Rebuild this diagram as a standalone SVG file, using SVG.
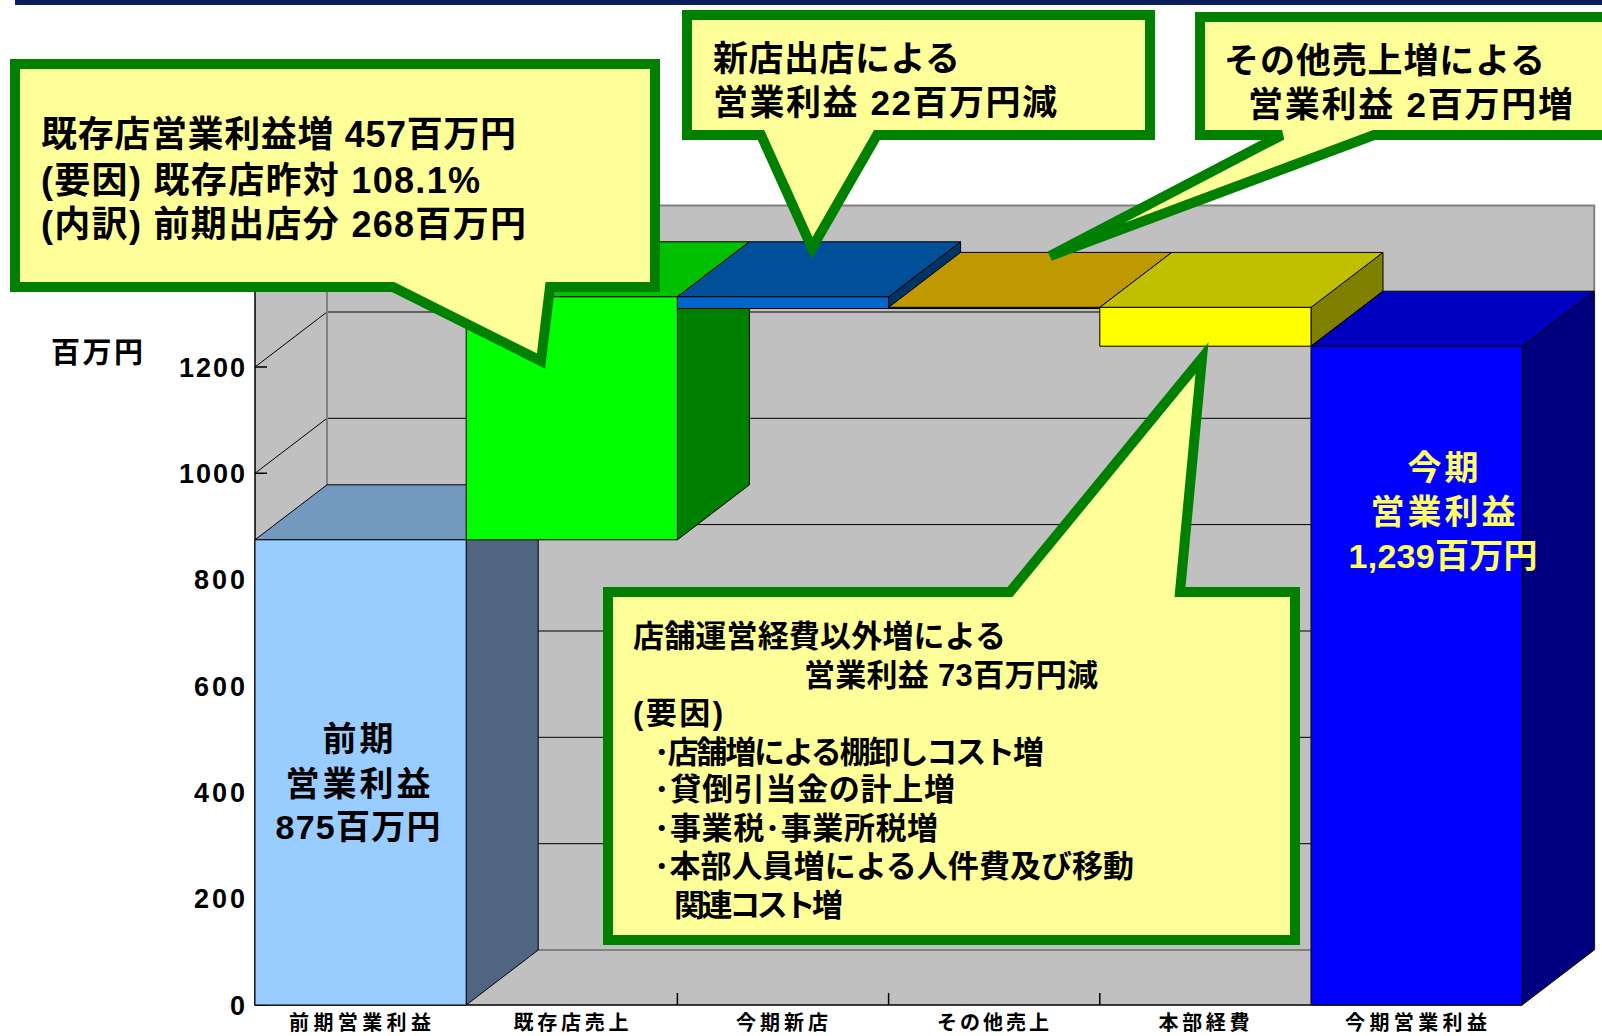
<svg xmlns="http://www.w3.org/2000/svg" width="1602" height="1036" viewBox="0 0 1602 1036">
<style>
.wall{fill:#c0c0c0;stroke:none}
.edge{fill:none;stroke:#808080;stroke-width:2}
.grid{fill:none;stroke:#000;stroke-width:1}
.axis{fill:none;stroke:#000;stroke-width:1.5}
.bar{stroke:#000;stroke-width:1;stroke-linejoin:round}
.co{fill:#ffff99;stroke:#008000;stroke-width:10;stroke-linejoin:miter}
.t{font-family:"Liberation Sans","Noto Sans CJK JP","Noto Sans CJK SC",sans-serif;font-weight:700;fill:#000}
.num{font-family:"Liberation Sans",Arial,sans-serif;font-weight:700;font-size:27px;fill:#000}
.xl{font-family:"Liberation Sans","Noto Sans CJK JP",sans-serif;font-weight:700;font-size:20px;fill:#000;text-anchor:middle}
</style>
<rect x="15" y="0" width="1587" height="5" fill="#0c1e5b"/>
<g id="chart-frame">
<polygon class="wall" points="255,260.6 327,205.6 327,950 255,1005"/>
<rect class="wall" x="327" y="205.6" width="1267.2" height="744.4"/>
<polygon class="wall" points="255,1005 327,950 1594.2,950 1522.2,1005"/>
<g class="grid">
<path d="M327,843.7H1594.2M327,737.3H1594.2M327,631H1594.2M327,524.6H1594.2M327,418.3H1594.2M327,312H1594.2"/>
<path d="M255,898.7L327,843.7M255,792.3L327,737.3M255,686L327,631M255,579.6L327,524.6M255,473.3L327,418.3M255,367L327,312"/>
</g>
<path class="edge" d="M327,205.6V950H1594.2M255,260.6L327,205.6H1594.2V950"/>
<g class="axis">
<path d="M255,260.6V1005H1522.2"/>
<path d="M255,1005H267M255,898.7H267M255,792.3H267M255,686H267M255,579.6H267M255,473.3H267M255,367H267"/>
<path d="M677.4,993V1005M888.6,993V1005M1099.8,993V1005"/>
</g>
<g id="y-labels">
<text class="num" x="179" y="377" textLength="66">1200</text>
<text class="num" x="179" y="483" textLength="66">1000</text>
<text class="num" x="194" y="589" textLength="51">800</text>
<text class="num" x="194" y="696" textLength="51">600</text>
<text class="num" x="194" y="802" textLength="51">400</text>
<text class="num" x="194" y="908" textLength="51">200</text>
<text class="num" x="230" y="1015">0</text>
</g>
<text class="t" x="51" y="363" font-size="29" textLength="92">百万円</text>
<g id="x-labels">
<text class="xl" x="360" y="1030" textLength="142">前期営業利益</text>
<text class="xl" x="571" y="1030" textLength="115">既存店売上</text>
<text class="xl" x="782" y="1030" textLength="92">今期新店</text>
<text class="xl" x="993" y="1030" textLength="112">その他売上</text>
<text class="xl" x="1204" y="1030" textLength="91">本部経費</text>
<text class="xl" x="1416" y="1030" textLength="142">今期営業利益</text>
</g>
</g>
<g id="connectors"></g>
<g id="bar-prev">
<polygon class="bar" fill="#4f6580" points="466.2,539.8 538.2,484.8 538.2,950 466.2,1005"/>
<polygon class="bar" fill="#7399bf" points="255,539.8 327,484.8 538.2,484.8 466.2,539.8"/>
<rect class="bar" fill="#99ccff" x="255" y="539.8" width="211.2" height="465.2"/>
<text class="t" font-size="34" text-anchor="middle"><tspan x="358" y="751" textLength="71">前期</tspan><tspan x="358" y="796" textLength="145">営業利益</tspan><tspan x="358" y="839" textLength="165">875百万円</tspan></text>
</g>
<g id="bar-existing">
<polygon class="bar" fill="#008000" points="677.4,296.8 749.4,241.8 749.4,484.8 677.4,539.8"/>
<polygon class="bar" fill="#00c000" points="466.2,296.8 538.2,241.8 749.4,241.8 677.4,296.8"/>
<rect class="bar" fill="#00ff00" x="466.2" y="296.8" width="211.2" height="243"/>
</g>
<g id="bar-new">
<polygon class="bar" fill="#003366" points="888.6,296.8 960.6,241.8 960.6,253.5 888.6,308.5"/>
<polygon class="bar" fill="#004f99" points="677.4,296.8 749.4,241.8 960.6,241.8 888.6,296.8"/>
<rect class="bar" fill="#0066cc" x="677.4" y="296.8" width="211.2" height="11.7"/>
</g>
<g id="bar-other">
<polygon class="bar" fill="#c09900" points="888.6,307.4 960.6,252.4 1171.8,252.4 1099.8,307.4"/>
<rect class="bar" fill="#ffcc00" x="888.6" y="307.4" width="211.2" height="1.1"/>
</g>
<g id="bar-hq">
<polygon class="bar" fill="#808000" points="1311,307.4 1383,252.4 1383,291.2 1311,346.2"/>
<polygon class="bar" fill="#c0c000" points="1099.8,307.4 1171.8,252.4 1383,252.4 1311,307.4"/>
<rect class="bar" fill="#ffff00" x="1099.8" y="307.4" width="211.2" height="38.8"/>
</g>
<g id="bar-current">
<polygon class="bar" fill="#000080" points="1522.2,346.2 1594.2,291.2 1594.2,950 1522.2,1005"/>
<polygon class="bar" fill="#0000c0" points="1311,346.2 1383,291.2 1594.2,291.2 1522.2,346.2"/>
<rect class="bar" fill="#0000ff" x="1311" y="346.2" width="211.2" height="658.8"/>
<text class="t" font-size="34" text-anchor="middle" style="fill:#ffff66"><tspan x="1443" y="480" textLength="71">今期</tspan><tspan x="1443" y="524" textLength="145">営業利益</tspan><tspan x="1443" y="568" textLength="189">1,239百万円</tspan></text>
</g>
<g id="callout-existing">
<path class="co" d="M15,64H655V287H550L541,361L393,287H15Z"/>
<text class="t" font-size="36"><tspan x="41" y="147" textLength="475">既存店営業利益増 457百万円</tspan><tspan x="41" y="193" textLength="439">(要因) 既存店昨対 108.1%</tspan><tspan x="41" y="237" textLength="485">(内訳) 前期出店分 268百万円</tspan></text>
</g>
<g id="callout-new">
<path class="co" d="M687,15H1150V135H877L812,248L761,135H687Z"/>
<text class="t" font-size="35"><tspan x="713" y="71" textLength="247">新店出店による</tspan><tspan x="713" y="115" textLength="344">営業利益 22百万円減</tspan></text>
</g>
<g id="callout-other">
<path class="co" d="M1200,17H1625V135H1374L1050,256L1282,135H1200Z"/>
<text class="t" font-size="35"><tspan x="1224" y="73" textLength="321">その他売上増による</tspan><tspan x="1248" y="117" textLength="325">営業利益 2百万円増</tspan></text>
</g>
<g id="callout-hq">
<path class="co" d="M608,592H1010L1202,358L1180,592H1295V940H608Z"/>
<text class="t" font-size="31"><tspan x="633" y="647" textLength="373">店舗運営経費以外増による</tspan><tspan x="804" y="686" textLength="294">営業利益 73百万円減</tspan><tspan x="633" y="724" textLength="90">(要因)</tspan><tspan x="654" y="763" textLength="390">･店舗増による棚卸しコスト増</tspan><tspan x="654" y="800" textLength="301">･貸倒引当金の計上増</tspan><tspan x="654" y="839" textLength="284">･事業税･事業所税増</tspan><tspan x="654" y="877" textLength="480">･本部人員増による人件費及び移動</tspan><tspan x="674" y="916" textLength="169">関連コスト増</tspan></text>
</g>
</svg>
